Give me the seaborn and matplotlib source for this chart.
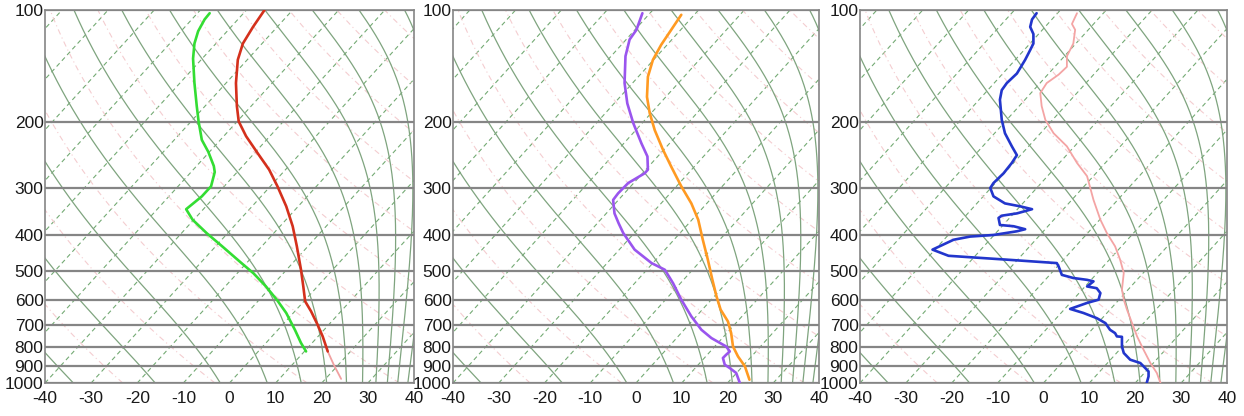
import numpy as np
import pandas as pd
import matplotlib
matplotlib.use("Agg")
import matplotlib.pyplot as plt
from matplotlib.ticker import NullLocator, FixedLocator
import seaborn as sns

# ---------------- data (x = position on the skewed temperature axis, p in hPa) ----------------
p_levels = [100, 200, 300, 400, 500, 600, 700, 800, 900, 1000]
x_ticks = [-40, -30, -20, -10, 0, 10, 20, 30, 40]

# panel 1
p1_temp = [100, 111, 123, 136, 157, 181, 199, 218, 242, 268, 297, 336, 380, 430, 497, 551, 604, 643, 698, 750, 823]
x1_temp = [7.6, 5.1, 2.9, 1.8, 1.4, 1.6, 2.0, 3.6, 6.1, 8.6, 10.4, 12.3, 13.7, 14.6, 15.5, 16.0, 16.4, 17.7, 19.1, 20.2, 21.3]
p1_low = [823, 893, 975]
x1_low = [21.3, 22.6, 24.2]
p1_dew = [102, 106, 114, 123, 135, 157, 181, 199, 223, 240, 262, 272, 297, 316, 342, 365, 397, 430, 477, 508, 551, 599, 649, 721, 781, 823]
x1_dew = [-4.3, -5.4, -6.8, -7.6, -7.9, -7.6, -7.1, -6.7, -6.0, -4.6, -3.4, -3.2, -4.0, -6.0, -9.4, -8.0, -4.9, -1.6, 2.6, 5.2, 7.9, 10.3, 12.3, 14.2, 15.5, 16.6]

# panel 2
p2_temp = [103, 113, 124, 136, 151, 171, 189, 210, 237, 263, 297, 330, 365, 413, 467, 529, 586, 636, 684, 735, 798, 849, 902, 980]
x2_temp = [9.9, 7.7, 5.5, 3.7, 2.6, 2.4, 3.0, 4.1, 5.9, 7.7, 9.9, 12.1, 13.6, 14.6, 15.7, 16.7, 17.6, 18.5, 20.1, 20.8, 21.2, 22.3, 23.8, 24.8]
p2_dew = [102, 113, 120, 133, 157, 178, 201, 228, 247, 268, 274, 291, 310, 323, 351, 373, 396, 439, 477, 497, 540, 598, 663, 720, 758, 798, 823, 840, 857, 893, 912, 940, 1000]
x2_dew = [1.4, 0.1, -1.4, -2.3, -2.5, -1.9, -0.6, 1.2, 2.5, 2.6, 1.9, -1.7, -3.9, -5.0, -4.7, -3.8, -2.8, -0.3, 3.4, 6.3, 8.1, 9.9, 12.1, 14.3, 16.5, 19.7, 20.5, 19.7, 19.0, 19.4, 20.5, 21.9, 22.7]

# panel 3
p3_temp = [102, 109, 113, 123, 133, 142, 149, 157, 167, 181, 197, 214, 232, 257, 279, 323, 365, 396, 430, 467, 507, 562, 598, 636, 691, 750, 814, 884, 940, 1000]
x3_temp = [7.3, 6.2, 6.9, 6.5, 5.1, 5.1, 3.3, 0.7, -0.7, -0.4, 0.4, 2.2, 5.1, 7.3, 9.5, 10.9, 12.4, 13.8, 15.6, 16.7, 17.5, 17.1, 17.5, 18.2, 19.3, 20.4, 21.8, 23.3, 24.7, 25.5]
p3_dew = [102, 106, 111, 116, 123, 128, 136, 148, 157, 164, 174, 197, 214, 232, 245, 257, 274, 291, 300, 316, 330, 336, 342, 351, 356, 361, 377, 380, 387, 392, 401, 405, 413, 439, 456, 467, 477, 487, 513, 523, 529, 534, 551, 557, 574, 598, 610, 633, 649, 670, 691, 720, 735, 750, 752, 798, 831, 866, 884, 931, 960, 1000]
x3_dew = [-1.5, -2.5, -2.9, -2.2, -2.2, -2.9, -4.0, -5.8, -8.0, -9.1, -9.5, -9.1, -8.4, -6.9, -5.8, -6.9, -8.7, -10.9, -11.6, -10.9, -8.4, -5.1, -2.5, -5.8, -9.1, -9.8, -9.5, -6.5, -4.0, -5.8, -10.9, -16.0, -19.6, -24.2, -20.7, -8.0, 2.9, 3.3, 4.0, 6.5, 9.5, 10.9, 9.5, 11.6, 12.4, 12.0, 9.5, 5.8, 8.7, 11.6, 13.5, 14.5, 15.6, 16.0, 17.1, 17.1, 17.5, 18.9, 21.1, 22.9, 22.9, 22.5]

# ---------------- background (skew-T furniture) ----------------
SKEW = 32.0
KAPPA = 0.2857


def skew_x(t_c, p):
    return t_c + SKEW * np.log(1000.0 / p)


P_BG = np.geomspace(1000, 95, 160)


def moist_profile(t0_k):
    Rd, Cp, Lv, eps = 287.04, 1005.7, 2.501e6, 0.622
    lnp = np.log(P_BG)
    T = np.empty_like(P_BG)
    T[0] = t0_k

    def f(t, p):
        tc = t - 273.15
        es = 6.112 * np.exp(17.67 * tc / (tc + 243.5))
        rs = eps * es / (p - es)
        return (Rd * t + Lv * rs) / (Cp + Lv * Lv * rs * eps / (Rd * t * t))

    for i in range(1, len(P_BG)):
        h = lnp[i] - lnp[i - 1]
        k1 = f(T[i - 1], P_BG[i - 1])
        k2 = f(T[i - 1] + h * k1, P_BG[i])
        T[i] = T[i - 1] + 0.5 * h * (k1 + k2)
    return T


def moist_for_theta(theta_top):
    lo, hi = 180.0, 330.0
    for _ in range(40):
        mid = 0.5 * (lo + hi)
        T = moist_profile(mid)
        th = T[-1] * (1000.0 / P_BG[-1]) ** KAPPA
        if th > theta_top:
            hi = mid
        else:
            lo = mid
    return moist_profile(0.5 * (lo + hi))


moist_curves = [moist_for_theta(th) for th in range(240, 470, 20)]


def draw_background(ax):
    # isotherms (dashed green)
    for t in range(-160, 50, 10):
        ax.plot(skew_x(t, P_BG), P_BG, color="#74aa74", lw=0.8, ls=(0, (4, 3)), zorder=1)
    # dry adiabats (faint pink dash-dot)
    for th in range(250, 560, 20):
        T = th * (P_BG / 1000.0) ** KAPPA - 273.15
        ax.plot(skew_x(T, P_BG), P_BG, color="#f4cdd0", lw=0.8, ls=(0, (5, 3, 1, 3)), zorder=1)
    # moist adiabats (solid green-grey)
    for T in moist_curves:
        ax.plot(skew_x(T - 273.15, P_BG), P_BG, color="#7fa47f", lw=0.9, zorder=1)
    # isobars
    for p in p_levels:
        ax.axhline(p, color="#858585", lw=1.6, zorder=2)


sns.set_theme(style="white")
plt.rcParams["font.family"] = ["Liberation Sans", "DejaVu Sans"]

fig = plt.figure(figsize=(12.44, 4.16), dpi=100)
W, H = 1244.0, 416.0
boxes = [(45, 414), (453, 819), (860, 1227)]
axes = []
for (l, r) in boxes:
    ax = fig.add_axes([l / W, (H - 383) / H, (r - l) / W, 373 / H])
    axes.append(ax)

for ax in axes:
    draw_background(ax)
    ax.set_yscale("log")
    ax.set_ylim(1000, 100)
    ax.set_xlim(-40, 40)
    ax.yaxis.set_major_locator(FixedLocator(p_levels))
    ax.yaxis.set_minor_locator(NullLocator())
    ax.set_yticklabels([str(p) for p in p_levels])
    ax.set_xticks(x_ticks)
    ax.set_xticklabels([str(v) for v in x_ticks])
    ax.tick_params(axis="both", length=0, labelsize=12.5, colors="#1a1a1a")
    ax.tick_params(axis="y", pad=1)
    ax.tick_params(axis="x", pad=6)
    ax.set_xlabel("")
    ax.set_ylabel("")
    for s in ax.spines.values():
        s.set_color("#858585")
        s.set_linewidth(1.2)


def curve(ax, x, p, color, lw=1.9, z=5):
    df = pd.DataFrame({"x": x, "p": p})
    sns.lineplot(data=df, x="x", y="p", sort=False, estimator=None, color=color, lw=lw, ax=ax, zorder=z)
    ax.set_xlabel("")
    ax.set_ylabel("")


curve(axes[0], x1_low, p1_low, "#f0a0a0", lw=1.3)
curve(axes[0], x1_temp, p1_temp, "#d4301c")
curve(axes[0], x1_dew, p1_dew, "#33dd33")

curve(axes[1], x2_temp, p2_temp, "#ff9a22")
curve(axes[1], x2_dew, p2_dew, "#9a55ee")

curve(axes[2], x3_temp, p3_temp, "#f4a4a4", lw=1.3)
curve(axes[2], x3_dew, p3_dew, "#2236cc")

for ax in axes:
    ax.set_ylim(1000, 100)
    ax.set_xlim(-40, 40)

fig.savefig("out.png", dpi=100)
